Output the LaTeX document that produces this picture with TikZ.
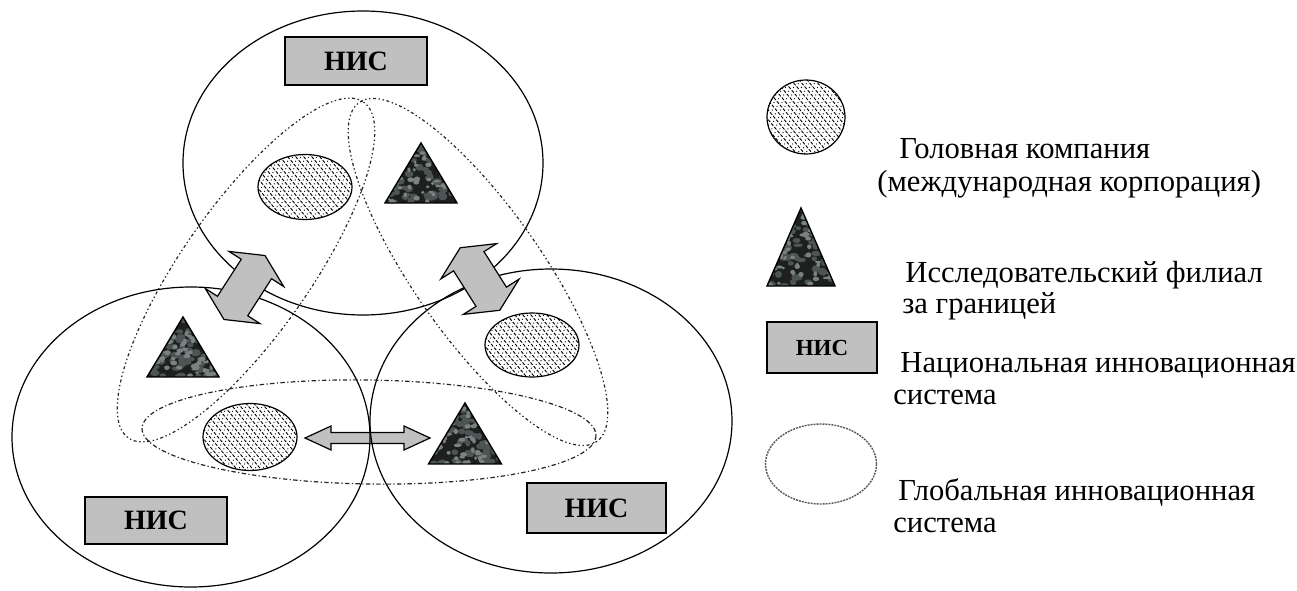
\documentclass[tikz,border=0pt]{standalone}
\usepackage{fontspec}
\setmainfont{Liberation Serif}
\newfontfamily\tnr{Liberation Serif}
\usetikzlibrary{shapes.geometric}
\definecolor{boxgray}{HTML}{C0C0C0}
\definecolor{texdark}{HTML}{1E2020}
\definecolor{texlight}{HTML}{7A8382}
\definecolor{texmid}{HTML}{4D5454}
\tikzset{
  nis/.style={ellipse, draw=black, line width=0.6pt, inner sep=0pt},
  nisbox/.style={rectangle, draw=black, line width=0.7pt, fill=boxgray, inner sep=0pt,
    font=\tnr\fontsize{14}{16}\selectfont\bfseries},
  gis/.style={draw=black!85, line width=0.6pt, dash pattern=on 0.7pt off 1.3pt on 0.7pt off 1.3pt on 1.5pt off 1.3pt},
  gisbottom/.style={draw=black!85, line width=0.6pt, dash pattern=on 2.2pt off 1.2pt on 0.6pt off 1.2pt},
  hatchdash/.style={black, line width=0.45pt, dash pattern=on 1.6pt off 0.8pt},
  hatchdot/.style={black, line width=0.45pt, dash pattern=on 0.45pt off 2pt},
  company/.style={ellipse, draw=black, line width=0.6pt, fill=white, inner sep=0pt,
    path picture={
      \foreach \k in {-112,-104,...,112} {
        \draw[hatchdash] ([shift={(\k-50,-60)}]path picture bounding box.center) -- ++(100,120);
        \draw[hatchdot] ([shift={(\k-46,-60)}]path picture bounding box.center) -- ++(100,120);
      }
    }},
  blockarrow/.style={draw=black, line width=0.6pt, fill=boxgray, line join=miter},
  legendtext/.style={anchor=base west, inner sep=0pt, font=\tnr\fontsize{15.3}{17}\selectfont},
  globalsys/.style={ellipse, draw=black!65, line width=0.7pt, dash pattern=on 1pt off 0.5pt, inner sep=0pt},
}
% branch triangle: name, cx, apex y, base y, half base
\newcommand\Branch[5]{%
  \coordinate (#1) at (#2,{(#3+#4)/2});
  \begin{scope}
    \clip (#2,#3) -- (#2+#5,#4) -- (#2-#5,#4) -- cycle;
    \fill[texdark] (#2-#5,#3) rectangle (#2+#5,#4);
    \foreach \i in {1,...,90} {
      \fill[texmid] ({#2+rand*#5},{(#3+#4)/2+rand*(#4-#3)/2}) ellipse [x radius={2.5+2.5*rnd}, y radius={1.8+2*rnd}];
    }
    \foreach \i in {1,...,70} {
      \fill[texlight] ({#2+rand*#5},{(#3+#4)/2+rand*(#4-#3)/2}) ellipse [x radius={1.5+2.2*rnd}, y radius={1.2+1.5*rnd}];
    }
  \end{scope}
  \draw[line width=0.7pt, line join=miter] (#2,#3) -- (#2+#5,#4) -- (#2-#5,#4) -- cycle;
}
% double block arrow: cx, cy, angle, half length, head length, head half width, shaft half width
\newcommand\DArrow[7]{%
  \draw[blockarrow, shift={(#1,#2)}, rotate=#3]
    (-#4,0) -- (-#4+#5,#6) -- (-#4+#5,#7) -- (#4-#5,#7) -- (#4-#5,#6) -- (#4,0)
    -- (#4-#5,-#6) -- (#4-#5,-#7) -- (-#4+#5,-#7) -- (-#4+#5,-#6) -- cycle;
}
\begin{document}
\begin{tikzpicture}[x=0.5pt,y=-0.5pt]
\pgfmathsetseed{11}
\useasboundingbox (0,0) rectangle (1297,590);

% bottom exchange arrow (under the circle lines)
\DArrow{367.5}{438}{0}{62.5}{26}{12}{5.5}

% national innovation systems
\node[nis, minimum width=180pt, minimum height=152pt] (nisT) at (363,163) {};
\node[nis, minimum width=179pt, minimum height=150pt] (nisL) at (191,437) {};
\node[nis, minimum width=181pt, minimum height=152pt] (nisR) at (551,421) {};

% global innovation system
\draw[gis, rotate around={55:(246,270)}] (246,270) ellipse [x radius=205, y radius=64];
\draw[gis, rotate around={-55:(478,272)}] (478,272) ellipse [x radius=207, y radius=64];
\draw[gisbottom, rotate around={-0.9:(369,432)}] (369,432) ellipse [x radius=227, y radius=52];

% head companies
\node[company, minimum width=47pt, minimum height=32.5pt] (compT) at (305,187) {};
\node[company, minimum width=47pt, minimum height=33.5pt] (compL) at (250,437) {};
\node[company, minimum width=47pt, minimum height=32pt] (compR) at (532,345) {};

% research branches
\Branch{brT}{421}{143}{203}{36}
\Branch{brL}{183}{317}{377}{36}
\Branch{brR}{465}{403}{464}{36.5}

% NIS labels
\node[nisbox, minimum width=71pt, minimum height=24pt] (boxT) at (356,61) {НИС};
\node[nisbox, minimum width=71pt, minimum height=23.5pt] (boxL) at (156,520.5) {НИС};
\node[nisbox, minimum width=69.5pt, minimum height=25pt] (boxR) at (596.5,508) {НИС};

% exchange arrows between the top NIS and the others
\DArrow{244.5}{287.5}{57.3}{38}{16}{32.5}{18}
\DArrow{480}{279}{-57.7}{37}{16}{33}{18}

% legend
\node[company, minimum width=39pt, minimum height=37pt] (lgC) at (806,117) {};
\Branch{lgB}{801}{208}{286}{34}
\node[nisbox, minimum width=55pt, minimum height=25.5pt, font=\tnr\fontsize{11.5}{13}\selectfont\bfseries] (lgN) at (822,347.5) {НИС};
\node[globalsys, minimum width=55.5pt, minimum height=40pt] (lgG) at (821,464) {};

\node[legendtext] (t1) at (899,158) {Головная компания};
\node[legendtext] (t2) at (877,191) {(международная корпорация)};
\node[legendtext] (t3) at (905,282) {Исследовательский филиал};
\node[legendtext] (t4) at (902,313) {за границей};
\node[legendtext] (t5) at (900,372) {Национальная инновационная};
\node[legendtext] (t6) at (893,404) {система};
\node[legendtext] (t7) at (898,500) {Глобальная инновационная};
\node[legendtext] (t8) at (893,532) {система};
\end{tikzpicture}
\end{document}
